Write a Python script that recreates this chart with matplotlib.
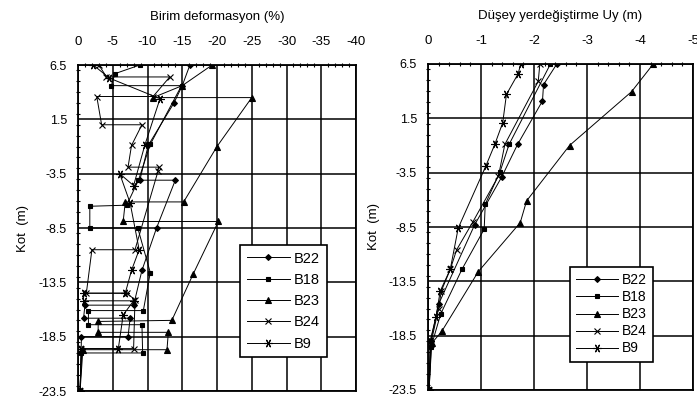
import numpy as np
import matplotlib.pyplot as plt
from matplotlib.ticker import MultipleLocator, FixedLocator

plt.rcParams['font.family'] = ['Liberation Sans', 'DejaVu Sans']

# --- left panel: Birim deformasyon (%) vs Kot (m) ---
b22_def = [-16.1, -15.0, -13.8, -10.1, -8.9, -14.0, -11.3, -9.2, -8.0, -1.0, -0.8, -7.5, -7.2, -0.5, -0.3]
b22_kot = [6.5, 4.6, 3.0, -0.9, -4.1, -4.1, -8.5, -12.4, -15.6, -15.6, -16.8, -16.8, -18.5, -18.5, -23.5]

b18_def = [-8.9, -5.3, -4.8, -14.9, -10.4, -8.7, -7.0, -1.7, -1.7, -8.6, -10.4, -9.4, -1.5, -1.5, -9.2, -9.3, -0.5, -0.3]
b18_kot = [6.5, 5.7, 4.6, 4.6, -0.8, -4.1, -6.4, -6.5, -8.5, -8.5, -12.6, -16.1, -16.1, -17.4, -17.4, -20.0, -20.0, -23.5]

b23_def = [-19.3, -15.0, -10.8, -25.0, -20.0, -15.2, -6.8, -6.5, -20.2, -16.6, -13.5, -2.9, -2.9, -13.0, -12.8, -0.7, -0.3]
b23_kot = [6.5, 4.6, 3.5, 3.5, -1.0, -6.1, -6.1, -7.9, -7.9, -12.7, -17.0, -17.1, -18.1, -18.1, -19.7, -19.7, -23.5]

b24_def = [-3.0, -4.1, -13.2, -10.8, -2.7, -3.4, -9.2, -7.7, -7.2, -11.6, -11.5, -8.2, -2.0, -1.2, -7.0, -8.2, -8.0, -0.5, -0.3]
b24_kot = [6.5, 5.4, 5.4, 3.6, 3.6, 1.0, 1.0, -0.9, -2.9, -2.9, -3.3, -10.5, -10.5, -14.5, -14.5, -15.1, -19.6, -19.6, -23.5]

b9_def = [-2.2, -4.5, -11.8, -9.6, -8.0, -6.0, -7.5, -8.8, -7.7, -6.8, -0.8, -0.8, -8.0, -6.5, -5.8, -0.5, -0.3]
b9_kot = [6.5, 5.3, 3.4, -0.9, -4.6, -3.5, -6.2, -10.5, -12.4, -14.5, -14.5, -15.2, -15.2, -16.5, -19.6, -19.6, -23.5]

# --- right panel: Düşey yerdeğiştirme Uy (m) vs Kot (m) ---
b22_uy = [-2.43, -2.18, -2.16, -1.69, -1.39, -0.88, -0.20, -0.05, -0.02]
b22_uy_kot = [6.5, 4.6, 3.1, -0.9, -3.9, -8.3, -15.6, -19.0, -23.5]

b18_uy = [-2.31, -1.53, -1.36, -1.08, -1.06, -0.64, -0.24, -0.06, -0.02]
b18_uy_kot = [6.5, -0.9, -3.4, -6.4, -8.7, -12.4, -16.5, -19.5, -23.5]

b23_uy = [-4.25, -3.84, -2.67, -1.86, -1.74, -0.95, -0.26, -0.07, -0.02]
b23_uy_kot = [6.5, 3.95, -1.0, -6.1, -8.1, -12.6, -18.1, -19.2, -23.5]

b24_uy = [-2.11, -2.08, -1.45, -1.33, -0.85, -0.54, -0.42, -0.25, -0.20, -0.05, -0.02]
b24_uy_kot = [6.5, 4.9, -0.9, -3.8, -8.0, -10.6, -12.4, -14.4, -16.0, -19.3, -23.5]

b9_uy = [-1.75, -1.70, -1.48, -1.41, -1.26, -1.09, -0.57, -0.42, -0.23, -0.15, -0.04, -0.02]
b9_uy_kot = [6.5, 5.6, 3.7, 1.1, -0.9, -2.9, -8.6, -12.4, -14.4, -16.8, -19.0, -23.5]

names = ['B22', 'B18', 'B23', 'B24', 'B9']
markers = ['D', 's', '^', 'x', (6, 2, 90)]
msizes = [3, 3.5, 4, 5, 6]

left_series = [(b22_def, b22_kot), (b18_def, b18_kot), (b23_def, b23_kot),
               (b24_def, b24_kot), (b9_def, b9_kot)]
right_series = [(b22_uy, b22_uy_kot), (b18_uy, b18_uy_kot), (b23_uy, b23_uy_kot),
                (b24_uy, b24_uy_kot), (b9_uy, b9_uy_kot)]

kot_ticks = [6.5, 1.5, -3.5, -8.5, -13.5, -18.5, -23.5]

fig = plt.figure(figsize=(6.97, 4.03), dpi=100)
ax1 = fig.add_axes([78 / 697, 1 - 391 / 403, 278 / 697, 326 / 403])
ax2 = fig.add_axes([428 / 697, 1 - 390 / 403, 265 / 697, 326 / 403])


def style_axis(ax, series, xlim, xmajor, xminor, xlabel, legend_box, ylabelpad,
               legsize, legspacing):
    for (x, y), name, m, ms in zip(series, names, markers, msizes):
        ax.plot(x, y, color='black', linewidth=0.7, marker=m, markersize=ms,
                markeredgewidth=0.8, label=name)
    ax.set_xlim(*xlim)
    ax.set_ylim(-23.5, 6.5)
    ax.xaxis.set_major_locator(MultipleLocator(xmajor))
    ax.xaxis.set_minor_locator(MultipleLocator(xminor))
    ax.yaxis.set_major_locator(FixedLocator(kot_ticks))
    ax.yaxis.set_minor_locator(MultipleLocator(1))
    ax.set_yticklabels([f'{t:g}' for t in kot_ticks])
    ax.xaxis.tick_top()
    ax.xaxis.set_label_position('top')
    ax.xaxis.set_major_formatter(plt.FuncFormatter(lambda v, p: '0' if v == 0 else f'{v:g}'))
    ax.tick_params(axis='x', which='major', length=0, labelsize=9.5, pad=12)
    ax.tick_params(axis='y', which='major', length=0, labelsize=9, pad=8)
    ax.tick_params(axis='both', which='minor', length=3, width=0.8, direction='inout')
    ax.grid(True, which='major', color='black', linewidth=1.1)
    for s in ax.spines.values():
        s.set_linewidth(1.3)
    ax.set_xlabel(xlabel, fontsize=9.5, labelpad=12)
    ax.set_ylabel('Kot  (m)', fontsize=9.5, labelpad=ylabelpad)
    leg = ax.legend(loc='upper left', bbox_to_anchor=legend_box, fontsize=legsize, frameon=True,
                    fancybox=False, edgecolor='black', framealpha=1, handlelength=3.0,
                    borderpad=0.45, labelspacing=legspacing, handletextpad=0.25,
                    borderaxespad=0)
    leg.get_frame().set_linewidth(1.2)


style_axis(ax1, left_series, (0, -40), 5, 1, 'Birim deformasyon (%)',
           (162 / 278, 1 - 180 / 326), 7, 10.5, 0.5)
style_axis(ax2, right_series, (0, -5), 1, 0.2, 'Düşey yerdeğiştirme Uy (m)',
           (142 / 265, 1 - 203 / 326), 6, 10, 0.22)

fig.savefig('out.png', dpi=100)
